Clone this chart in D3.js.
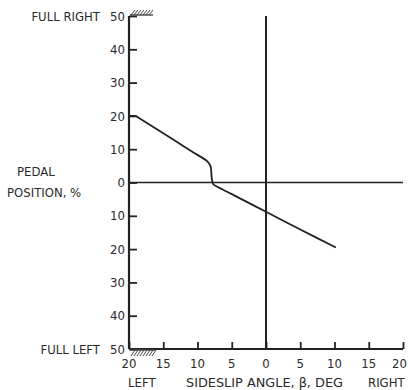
<!DOCTYPE html>
<html><head><meta charset="utf-8">
<script src="https://cdn.jsdelivr.net/npm/d3@7"></script>
<style>
html,body{margin:0;padding:0;background:#fff;}
svg{display:block;}
text{font-family:"DejaVu Sans Condensed","Liberation Sans Narrow","DejaVu Sans",sans-serif;fill:#2a2a2a;font-size:13px;}
</style></head>
<body>
<svg id="c" width="408" height="390"></svg>
<script>
// Data
const sideslip = [-19, -15, -11, -8.6, -8.1, -8.0, -7.9, -7.7, -7.1, -5, 0, 5, 10.2];
const pedal    = [20, 14.8, 9.5, 6.4, 4.9, 3.4, 1.0, -0.5, -1.3, -3.5, -8.8, -14.1, -19.5];
const xTicks = [-20, -15, -10, -5, 0, 5, 10, 15, 20];
const xTickLabels = ["20", "15", "10", "5", "0", "5", "10", "15", "20"];
const yTicks = [50, 40, 30, 20, 10, 0, -10, -20, -30, -40, -50];
const yTickLabels = ["50", "40", "30", "20", "10", "0", "10", "20", "30", "40", "50"];

const svg = d3.select("#c");
const x = d3.scaleLinear().domain([-20, 20]).range([129, 403]);
const y = d3.scaleLinear().domain([-50, 50]).range([349, 16]);
const ink = "#222";

// Left axis
const yAxis = d3.axisRight(y).tickValues(yTicks).tickSize(8).tickFormat("");
const gy = svg.append("g").attr("transform", `translate(${x(-20)},0)`).call(yAxis);
gy.select(".domain").attr("stroke", ink).attr("stroke-width", 2.2).attr("d", `M0,${y(50)}V${y(-50)}`);
gy.selectAll(".tick line").attr("stroke", ink).attr("stroke-width", 1.8);
svg.append("g").selectAll("text").data(yTicks).join("text")
  .attr("x", x(-20) - 4).attr("y", d => y(d)).attr("dy", "0.36em")
  .attr("text-anchor", "end").text((d, i) => yTickLabels[i]);

// Bottom axis
const xAxis = d3.axisTop(x).tickValues(xTicks).tickSize(7).tickFormat("");
const gx = svg.append("g").attr("transform", `translate(0,${y(-50)})`).call(xAxis);
gx.select(".domain").attr("stroke", ink).attr("stroke-width", 2.2).attr("d", `M${x(-20)},0H${x(20)}`);
gx.selectAll(".tick line").attr("stroke", ink).attr("stroke-width", 1.8);
svg.append("g").selectAll("text").data(xTicks).join("text")
  .attr("x", (d, i) => i === xTicks.length - 1 ? 407 : x(d)).attr("y", y(-50) + 19)
  .attr("text-anchor", (d, i) => i === xTicks.length - 1 ? "end" : "middle")
  .text((d, i) => xTickLabels[i]);

// Zero lines
svg.append("line").attr("x1", x(0)).attr("x2", x(0)).attr("y1", y(50)).attr("y2", y(-50))
  .attr("stroke", ink).attr("stroke-width", 2);
svg.append("line").attr("x1", x(-20)).attr("x2", x(20)).attr("y1", y(0)).attr("y2", y(0))
  .attr("stroke", ink).attr("stroke-width", 1.6);

// Hatching (stops)
function hatch(x0, x1, yy, up) {
  const g = svg.append("g").attr("stroke", "#444").attr("stroke-width", 1);
  g.append("line").attr("x1", x0).attr("x2", x1).attr("y1", yy).attr("y2", yy).attr("stroke-width", 1.4);
  for (let xx = x0 + 1; xx <= x1 - 2; xx += 3) {
    if (up) g.append("line").attr("x1", xx).attr("y1", yy).attr("x2", xx + 4).attr("y2", yy - 5);
    else g.append("line").attr("x1", xx).attr("y1", yy + 6).attr("x2", xx + 4).attr("y2", yy);
  }
}
hatch(x(-20) + 1, x(-16.5), y(50) - 1, true);
hatch(x(-20) + 1, x(-16.2), y(-50) + 1, false);

// Curve
const pts = sideslip.map((b, i) => [b, pedal[i]]);
const line = d3.line().x(d => x(d[0])).y(d => y(d[1])).curve(d3.curveCatmullRom.alpha(0.5));
svg.append("path").attr("d", line(pts)).attr("fill", "none").attr("stroke", ink).attr("stroke-width", 1.8);
// short lead from axis tick at 20
svg.append("line").attr("x1", x(-20)).attr("x2", x(sideslip[0])).attr("y1", y(pedal[0])).attr("y2", y(pedal[0]))
  .attr("stroke", ink).attr("stroke-width", 1.8);

// Labels
svg.append("text").attr("x", 100).attr("y", y(50)).attr("dy", "0.36em").attr("text-anchor", "end").text("FULL RIGHT");
svg.append("text").attr("x", 100).attr("y", y(-50)).attr("dy", "0.36em").attr("text-anchor", "end").text("FULL LEFT");
svg.append("text").attr("x", 17).attr("y", 176).text("PEDAL");
svg.append("text").attr("x", 7).attr("y", 197).text("POSITION, %");
svg.append("text").attr("x", 128).attr("y", 387).text("LEFT");
svg.append("text").attr("x", 186).attr("y", 387).attr("textLength", 157).attr("lengthAdjust", "spacingAndGlyphs").text("SIDESLIP ANGLE, \u03B2, DEG");
svg.append("text").attr("x", 368).attr("y", 387).text("RIGHT");
</script>
</body></html>
